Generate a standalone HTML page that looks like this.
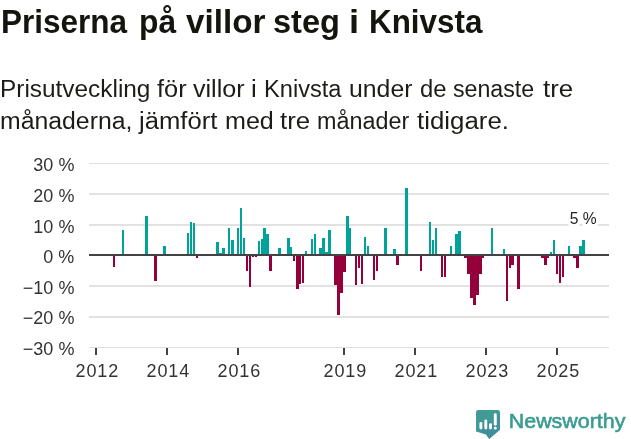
<!DOCTYPE html>
<html><head><meta charset="utf-8"><title>Priserna på villor steg i Knivsta</title>
<style>
html,body{margin:0;padding:0;background:#fff;}
body{width:631px;height:439px;position:relative;overflow:hidden;font-family:"Liberation Sans",sans-serif;}
.t{position:absolute;white-space:nowrap;margin:0;}
.t{transform-origin:0 0;}
.ti{font-size:33px;font-weight:bold;color:#15150f;line-height:40px;}
.su{font-size:23.5px;color:#1c1c18;line-height:32px;}
svg{position:absolute;left:0;top:0;}
svg text{font-family:"Liberation Sans",sans-serif;}
#wrap{position:absolute;left:0;top:0;width:631px;height:439px;will-change:transform;}
</style></head><body><div id="wrap">

<span class="t ti" style="left:1.13px;top:2.15px;transform:scaleX(0.9551)">Priserna</span>
<span class="t ti" style="left:138.91px;top:2.15px;transform:scaleX(0.965)">på</span>
<span class="t ti" style="left:186.14px;top:2.15px;transform:scaleX(1.0079)">villor</span>
<span class="t ti" style="left:273.08px;top:2.15px;transform:scaleX(0.986)">steg</span>
<span class="t ti" style="left:349.46px;top:2.15px;transform:scaleX(1.1)">i</span>
<span class="t ti" style="left:368.54px;top:2.15px;transform:scaleX(0.951)">Knivsta</span>
<span class="t su" style="left:-0.12px;top:73px;transform:scaleX(1.0377)">Prisutveckling</span>
<span class="t su" style="left:157.39px;top:73px;transform:scaleX(1.0792)">för</span>
<span class="t su" style="left:193.46px;top:73px;transform:scaleX(1.0679)">villor</span>
<span class="t su" style="left:251.45px;top:73px;transform:scaleX(1.1)">i</span>
<span class="t su" style="left:264.24px;top:73px;transform:scaleX(1.0048)">Knivsta</span>
<span class="t su" style="left:349.24px;top:73px;transform:scaleX(1.0558)">under</span>
<span class="t su" style="left:419.78px;top:73px;transform:scaleX(1.0136)">de</span>
<span class="t su" style="left:453.16px;top:73px;transform:scaleX(0.9861)">senaste</span>
<span class="t su" style="left:542.68px;top:73px;transform:scaleX(1.1)">tre</span>
<span class="t su" style="left:0.3px;top:105px;transform:scaleX(1.0558)">månaderna,</span>
<span class="t su" style="left:138.88px;top:105px;transform:scaleX(1.09)">jämfört</span>
<span class="t su" style="left:224.58px;top:105px;transform:scaleX(1.0683)">med</span>
<span class="t su" style="left:279.98px;top:105px;transform:scaleX(1.1)">tre</span>
<span class="t su" style="left:316.8px;top:105px;transform:scaleX(0.9944)">månader</span>
<span class="t su" style="left:416.66px;top:105px;transform:scaleX(1.1)">tidigare.</span>
<svg width="631" height="439" viewBox="0 0 631 439">

<g shape-rendering="crispEdges" fill="#dedede">
<rect x="89" y="163" width="520" height="1"/>
<rect x="89" y="347" width="520" height="1"/>
</g>
<g fill="#e2e2e2" shape-rendering="crispEdges">
<rect x="89" y="193" width="520" height="2"/>
<rect x="89" y="224" width="520" height="2"/>
<rect x="89" y="285" width="520" height="2"/>
<rect x="89" y="316" width="520" height="2"/>
</g>
<g shape-rendering="crispEdges" fill="#00a39a">
<rect x="122" y="230" width="2" height="25"/>
<rect x="145" y="216" width="3" height="39"/>
<rect x="163" y="246" width="3" height="9"/>
<rect x="187" y="233" width="2" height="22"/>
<rect x="190" y="222" width="2" height="33"/>
<rect x="193" y="223" width="2" height="32"/>
<rect x="216" y="242" width="3" height="13"/>
<rect x="219" y="253" width="3" height="2"/>
<rect x="222" y="248" width="3" height="7"/>
<rect x="228" y="228" width="2" height="27"/>
<rect x="231" y="240" width="3" height="15"/>
<rect x="237" y="228" width="2" height="27"/>
<rect x="240" y="208" width="2" height="47"/>
<rect x="243" y="238" width="2" height="17"/>
<rect x="258" y="241" width="2" height="14"/>
<rect x="261" y="239" width="2" height="16"/>
<rect x="263" y="228" width="3" height="27"/>
<rect x="266" y="234" width="3" height="21"/>
<rect x="278" y="248" width="3" height="7"/>
<rect x="287" y="238" width="3" height="17"/>
<rect x="290" y="247" width="2" height="8"/>
<rect x="305" y="251" width="2" height="4"/>
<rect x="311" y="239" width="2" height="16"/>
<rect x="314" y="234" width="2" height="21"/>
<rect x="319" y="248" width="3" height="7"/>
<rect x="322" y="238" width="3" height="17"/>
<rect x="325" y="252" width="3" height="3"/>
<rect x="328" y="230" width="3" height="25"/>
<rect x="346" y="216" width="3" height="39"/>
<rect x="349" y="228" width="2" height="27"/>
<rect x="364" y="237" width="2" height="18"/>
<rect x="367" y="246" width="2" height="9"/>
<rect x="384" y="228" width="3" height="27"/>
<rect x="393" y="249" width="3" height="6"/>
<rect x="405" y="188" width="3" height="67"/>
<rect x="429" y="222" width="2" height="33"/>
<rect x="432" y="240" width="2" height="15"/>
<rect x="435" y="228" width="2" height="27"/>
<rect x="450" y="246" width="2" height="9"/>
<rect x="455" y="234" width="3" height="21"/>
<rect x="458" y="231" width="3" height="24"/>
<rect x="491" y="228" width="2" height="27"/>
<rect x="503" y="249" width="2" height="6"/>
<rect x="550" y="252" width="2" height="3"/>
<rect x="553" y="240" width="2" height="15"/>
<rect x="568" y="246" width="2" height="9"/>
<rect x="579" y="246" width="3" height="9"/>
<rect x="582" y="240" width="3" height="15"/>
</g>
<g shape-rendering="crispEdges" fill="#93003a">
<rect x="113" y="255" width="2" height="12"/>
<rect x="154" y="255" width="3" height="26"/>
<rect x="196" y="255" width="2" height="3"/>
<rect x="246" y="255" width="2" height="16"/>
<rect x="249" y="255" width="2" height="32"/>
<rect x="252" y="255" width="2" height="2"/>
<rect x="255" y="255" width="2" height="2"/>
<rect x="269" y="255" width="3" height="16"/>
<rect x="293" y="255" width="2" height="6"/>
<rect x="296" y="255" width="3" height="34"/>
<rect x="299" y="255" width="2" height="29"/>
<rect x="302" y="255" width="2" height="28"/>
<rect x="334" y="255" width="3" height="30"/>
<rect x="337" y="255" width="3" height="60"/>
<rect x="340" y="255" width="3" height="38"/>
<rect x="343" y="255" width="3" height="17"/>
<rect x="355" y="255" width="2" height="30"/>
<rect x="358" y="255" width="2" height="13"/>
<rect x="361" y="255" width="2" height="29"/>
<rect x="373" y="255" width="2" height="25"/>
<rect x="376" y="255" width="2" height="16"/>
<rect x="396" y="255" width="3" height="10"/>
<rect x="420" y="255" width="2" height="16"/>
<rect x="441" y="255" width="2" height="22"/>
<rect x="444" y="255" width="2" height="22"/>
<rect x="464" y="255" width="3" height="3"/>
<rect x="467" y="255" width="3" height="19"/>
<rect x="470" y="255" width="3" height="43"/>
<rect x="473" y="255" width="3" height="50"/>
<rect x="476" y="255" width="3" height="40"/>
<rect x="479" y="255" width="3" height="19"/>
<rect x="482" y="255" width="2" height="3"/>
<rect x="506" y="255" width="2" height="46"/>
<rect x="509" y="255" width="2" height="13"/>
<rect x="511" y="255" width="3" height="10"/>
<rect x="517" y="255" width="3" height="34"/>
<rect x="541" y="255" width="3" height="3"/>
<rect x="544" y="255" width="3" height="10"/>
<rect x="547" y="255" width="2" height="3"/>
<rect x="556" y="255" width="2" height="19"/>
<rect x="559" y="255" width="2" height="28"/>
<rect x="562" y="255" width="2" height="22"/>
<rect x="573" y="255" width="3" height="3"/>
<rect x="576" y="255" width="3" height="13"/>
</g>
<rect x="89" y="254" width="520" height="2" fill="#434343" shape-rendering="crispEdges"/>
<g fill="#434343" shape-rendering="crispEdges">
<rect x="95" y="348" width="2" height="7"/>
<rect x="166" y="348" width="2" height="7"/>
<rect x="237" y="348" width="2" height="7"/>
<rect x="343" y="348" width="2" height="7"/>
<rect x="414" y="348" width="2" height="7"/>
<rect x="485" y="348" width="2" height="7"/>
<rect x="556" y="348" width="2" height="7"/>
</g>
<g font-size="18" fill="#333" text-anchor="end">
<text x="74.4" y="171.4">30 %</text>
<text x="74.4" y="202.0">20 %</text>
<text x="74.4" y="232.6">10 %</text>
<text x="74.4" y="263.1">0 %</text>
<text x="74.4" y="293.7">−10 %</text>
<text x="74.4" y="324.2">−20 %</text>
<text x="74.4" y="354.8">−30 %</text>
</g>
<g font-size="18" fill="#333" text-anchor="middle" letter-spacing="0.85">
<text x="97.3" y="377.2">2012</text>
<text x="168.3" y="377.2">2014</text>
<text x="239.3" y="377.2">2016</text>
<text x="345.3" y="377.2">2019</text>
<text x="416.3" y="377.2">2021</text>
<text x="487.3" y="377.2">2023</text>
<text x="558.3" y="377.2">2025</text>
</g>
<text x="583.3" y="223.6" font-size="15.6" fill="#222" text-anchor="middle" stroke="#fff" stroke-width="6.5" stroke-linejoin="round" paint-order="stroke">5 %</text>
<g id="logo">
<clipPath id="ic"><path d="M478.2 410 H497.8 Q500 410 500 412.2 V429.8 L489.2 439 L486 434.4 L476 431.6 V412.2 Q476 410 478.2 410 Z"/></clipPath>
<path d="M478.2 410 H497.8 Q500 410 500 412.2 V429.8 L489.2 439 L486 434.4 L476 431.6 V412.2 Q476 410 478.2 410 Z" fill="#409b97"/>
<g clip-path="url(#ic)" fill="#4a74a8" opacity="0.3"><path d="M482.34999999999997 422.4 L512.3499999999999 452.4 L509.45 459.55 L479.45 429.55 Z"/><path d="M487.25 420.0 L517.25 450.0 L514.35 459.55 L484.35 429.55 Z"/><path d="M491.95 423.6 L521.95 453.6 L519.05 459.55 L489.05 429.55 Z"/><path d="M496.75 413.7 L526.75 443.7 L523.85 459.55 L493.85 429.55 Z"/></g>
<g stroke="#fff" stroke-width="2.9" stroke-linecap="round">
<line x1="480.9" y1="423.4" x2="480.9" y2="428.1"/>
<line x1="485.8" y1="421" x2="485.8" y2="428.1"/>
<line x1="490.5" y1="424.6" x2="490.5" y2="428.1"/>
<line x1="495.3" y1="414.7" x2="495.3" y2="424.2"/>
<line x1="495.3" y1="428.1" x2="495.3" y2="428.15"/>
</g>
<text x="508.8" y="427.7" font-size="21" fill="#3b9b93" stroke="#3b9b93" stroke-width="0.6" textLength="116.6" lengthAdjust="spacingAndGlyphs">Newsworthy</text>
</g>

</svg></div></body></html>
